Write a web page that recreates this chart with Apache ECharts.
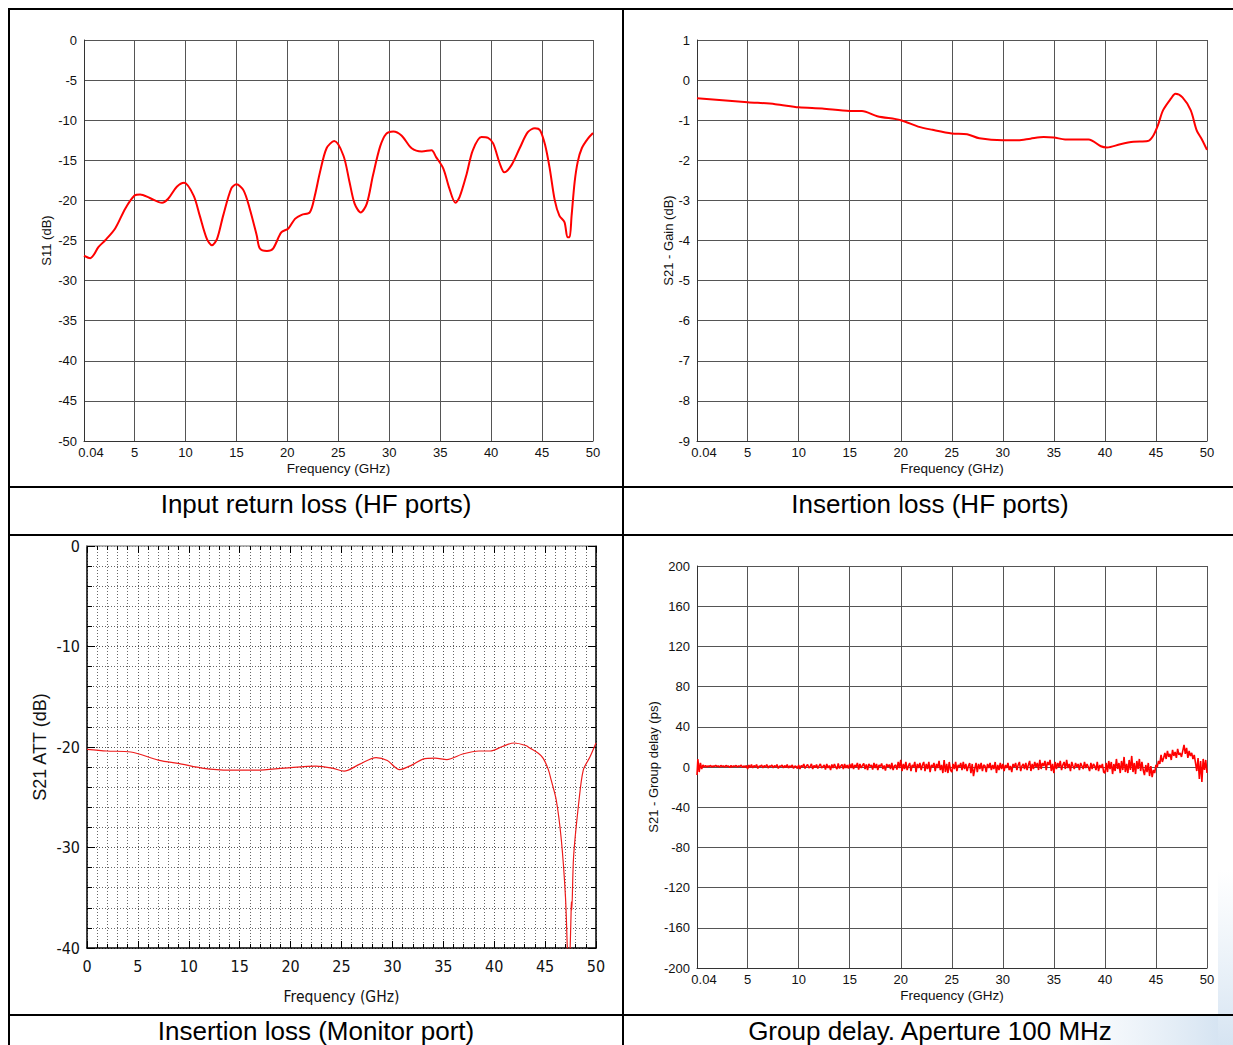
<!DOCTYPE html>
<html>
<head>
<meta charset="utf-8">
<script src="https://cdn.jsdelivr.net/npm/echarts@6/dist/echarts.min.js"></script>
<style>
html,body{margin:0;padding:0;background:#fff}
#main{width:1233px;height:1045px}
</style>
</head>
<body>
<div id="main"></div>
<script>
// ---------- tick labels ----------
const freqTicks = [0.04, 5, 10, 15, 20, 25, 30, 35, 40, 45, 50];

// ---------- captions ----------
const captions = [
  'Input return loss (HF ports)',
  'Insertion loss (HF ports)',
  'Insertion loss (Monitor port)',
  'Group delay. Aperture 100 MHz'
];

// ---------- S11 (input return loss) ----------
const s11Freq = [0.04,0.65,1.47,2.1,3.1,4.1,5,5.55,6.5,7.7,8.3,9.15,9.87,10.8,11.4,12.1,12.6,13.1,13.7,14.5,15,15.7,16.3,17,17.3,18,18.6,19.4,20.1,20.75,21.4,22.2,22.7,23.2,23.85,24.6,25.5,26.1,26.6,27.2,27.8,28.4,29.1,29.7,30.4,31.2,32.2,33.2,34.15,34.6,35.3,35.9,36.5,36.9,37.6,38.2,39.05,39.7,40.2,40.85,41.3,42,42.8,43.6,44.3,44.8,45.3,45.75,46.25,46.7,47.2,47.5,47.7,47.9,48.2,48.5,48.9,49.5,50];
const s11Val = [-26.9,-27.2,-25.8,-25,-23.5,-21,-19.4,-19.25,-19.7,-20.3,-19.8,-18.3,-17.8,-19.4,-21.9,-24.8,-25.6,-24.8,-21.9,-18.5,-18,-18.75,-21,-24.4,-26,-26.3,-26,-24,-23.5,-22.3,-21.8,-21.5,-19.4,-16.5,-13.5,-12.6,-14.4,-17.7,-20.4,-21.5,-20.4,-16.9,-13.3,-11.7,-11.4,-11.9,-13.5,-13.9,-13.75,-14.6,-16,-18.5,-20.3,-19.6,-16.7,-13.75,-12.1,-12.2,-12.9,-15.4,-16.5,-15.6,-13.5,-11.5,-11,-11.25,-13.1,-16,-20,-21.9,-22.7,-24.6,-24.6,-21.9,-17.7,-15.2,-13.5,-12.3,-11.6];

// ---------- S21 gain (HF ports) ----------
const s21Freq = [0.04,5,7.7,10,12.3,15,16.2,17.7,20,21.7,23.1,25,26.5,27.7,30,31.5,32.7,34,35,36.1,38.4,39.6,40.2,41.5,42.8,44.2,44.7,45.2,45.7,46.5,46.9,47.6,48.4,49,49.5,50];
const s21Val = [-0.45,-0.55,-0.6,-0.68,-0.71,-0.77,-0.77,-0.9,-1.0,-1.16,-1.24,-1.33,-1.35,-1.45,-1.5,-1.5,-1.46,-1.42,-1.43,-1.48,-1.48,-1.65,-1.68,-1.6,-1.54,-1.52,-1.4,-1.12,-0.75,-0.45,-0.34,-0.43,-0.75,-1.26,-1.48,-1.74];

// ---------- S21 ATT (monitor port) ----------
const attFreq = [0,1.94,4.3,7,9.3,11.3,14,16.7,19.4,22.5,24.1,25.25,26.8,28.4,29.5,30.7,31.9,33,34.2,35.35,36.9,38.5,39.6,40.8,41.95,43.1,43.5,44.3,44.8,45.3,45.6,46.1,46.6,47.0,47.2,47.35,47.45,47.55,47.58,47.62,47.8,48.3,48.75,49.4,50];
const attVal = [-20.23,-20.4,-20.5,-21.3,-21.7,-22.1,-22.3,-22.3,-22.1,-21.9,-22.1,-22.4,-21.7,-21.05,-21.35,-22.25,-21.8,-21.2,-21.1,-21.25,-20.7,-20.4,-20.4,-19.95,-19.6,-19.85,-20.1,-20.6,-21.1,-22.2,-23.3,-25.3,-29.3,-34.9,-40.5,-44,-40.5,-36.6,-35.4,-36.2,-30.9,-25.6,-22.3,-21,-19.6];

// ---------- group delay (ps): sweep 0.04 GHz, then every 0.125 GHz up to 50 GHz ----------
const gdStart = 0.04;
const gdStep = 0.125;
const gdVal = [
  -8, 8, -5, 4, -2, 2, 0, 1.5, 0, 1, 0.5, 1.5, 0, 1, 0.5, 1.5, 0.5, 1, 0, 1.5,
  0.5, 1, 0, 1.5, 0.5, 1, -0.5, 1.5, 0, 1, 0.5, 1.5, 0, 1, 0.5, 2, -0.5, 1, 0, 1.5,
  -2, 2, -0.5, 2.5, -1, 1.5, 0, 2.5, -1.5, 1, 0.5, 2, -1, 1.5, 0, 2.5, -1, 1, 0.5, 2,
  -1, 1.5, 0, 2.5, -1.5, 1, 0.5, 2, -1, 1.5, -0.5, 2.5, -1, 1, 0, 2, -1.5, 1, 0.5, -1.5,
  2, -2, 1.5, 0, 3, -1.5, 1, 2.5, -1, 0.5, 3, -2, 1.5, -0.5, 2.5, -1.5, 1, 3, -1, 0.5,
  2, -2.5, 3, -1, 1.5, -3, 2.5, -1, 3, 0, -2, 3.5, -1.5, 1, 2.5, -2, 3, -1, 2, -1.5,
  3, -1, 3.5, -2, 2, 0, 4, -2.5, 3, -1, 1.5, 3.5, -2, 2.5, -3, 3, 0.5, 2, -2.5, 4,
  -1, 3, -3, 2, 0.5, 3.5, -2, 1.5, -3.5, 3, 0, 2.5, -2, 4, -3, 1, 2, -2.5, 5, -1,
  7, -4, 3, -2, 5, -3, 1, 4, -4, 2, 0, 5, -5, 3, -1, 4, -3, 2, 5, -4,
  3, -2, 5, -5, 2, 0, 4, -4, 3, -1, 6, -3, 2, -6, 7, -5, 3, -6, 5, -3,
  -5, 3, -2, 5, -4, 2, 0, 4, -3, 5, -2, 3, -4, 1, 4, -6, 3, -9, -2, 4,
  -5, 3, -2, 4, -4, 2, 1, -5, 3, -1, 4, -3, 2, -2, 5, -6, 2, -3, 4, -2,
  3, -4, 2, -1, 4, -3, 1, -5, 3, 0, 4, -3, 2, 5, -4, 1, 3, -2, 4, -3,
  2, 6, -4, 3, -2, 5, 0, 4, -3, 7, -2, 4, 1, 6, -3, 5, 2, 7, -4, 3,
  -6, 5, -2, 4, 0, 6, -3, 2, 5, -2, 7, -1, 3, -4, 5, 1, -2, 4, 0, 3,
  -3, 4, 1, -2, 5, -1, 3, 0, -4, 4, -2, 3, 1, -3, 5, -4, 2, -1, 3, -5,
  -6, 4, -5, 6, -2, 5, -7, 3, -4, 8, -2, 4, -6, 6, -3, 10, -5, 3, -6, 7,
  -3, 11, -5, 4, -7, 6, -2, 8, -4, 5, -3, -8, 2, -5, 4, -9, 1, -10, -3, -6,
  2, 0, 6, 3, 12, 5, 9, 14, 8, 16, 10, 13, 7, 17, 11, 15, 9, 18, 12, 14,
  10, 16, 22, 13, 19, 9, 16, 11, 14, 8, 12, 4, -4, 9, -12, 6, -15, 8, -3, 7, -6
];

function zip(xs, ys) { return xs.map((x, i) => [x, ys[i]]); }
const gdData = gdVal.map((v, i) => [i === 0 ? gdStart : i * gdStep, v]);

const FONT = '"Liberation Sans", Arial, Helvetica, sans-serif';
const NARROW = '"Liberation Sans Narrow", "Arial Narrow", "DejaVu Sans Condensed", "Liberation Sans", sans-serif';

function plainX(grid) {
  return {
    type: 'value', gridIndex: grid, min: 0.04, max: 50,
    axisLine: { show: true, onZero: false, lineStyle: { color: '#333', width: 1 } },
    axisTick: { show: false, customValues: freqTicks },
    axisLabel: {
      customValues: freqTicks, fontSize: 13, color: '#111', fontFamily: FONT, margin: 5,
      formatter: v => (v === 0.04 ? '{first|0.04}' : String(v)),
      rich: { first: { fontSize: 13, color: '#111', fontFamily: FONT, padding: [0, 0, 0, 14] } }
    },
    splitLine: { show: true, lineStyle: { color: '#555', width: 1 } },
    name: 'Frequency (GHz)', nameLocation: 'middle', nameGap: 20,
    nameTextStyle: { fontSize: 13.5, color: '#111', fontFamily: FONT }
  };
}
function plainY(grid, min, max, interval, name, gap) {
  return {
    type: 'value', gridIndex: grid, min: min, max: max, interval: interval,
    axisLine: { show: true, onZero: false, lineStyle: { color: '#333', width: 1 } },
    axisTick: { show: false },
    axisLabel: { fontSize: 13, color: '#111', fontFamily: FONT, margin: 7 },
    splitLine: { show: true, lineStyle: { color: '#555', width: 1 } },
    name: name, nameLocation: 'middle', nameGap: gap, nameRotate: 90,
    nameTextStyle: { fontSize: 13, color: '#111', fontFamily: FONT }
  };
}

const redLine = (xi, yi, data, w, smooth, color) => ({
  type: 'line', xAxisIndex: xi, yAxisIndex: yi, data: data,
  showSymbol: false, symbol: 'none', smooth: smooth, animation: false,
  lineStyle: { color: color || '#ff0000', width: w }
});

const borders = [
  [8, 9, 1233, 9], [9, 8, 9, 1045], [623, 8, 623, 1045],
  [8, 487, 1233, 487], [8, 535, 1233, 535], [8, 1015, 1233, 1015]
].map(s => ({ type: 'line', z: 100, shape: { x1: s[0], y1: s[1], x2: s[2], y2: s[3] },
  style: { stroke: '#000', lineWidth: 2 } }));

const capPos = [[316, 504], [930, 504], [316, 1031], [930, 1031]];
const capTexts = captions.map((t, i) => ({
  type: 'text', z: 100, x: capPos[i][0], y: capPos[i][1],
  style: { text: t, font: '26px ' + FONT, fill: '#000', align: 'center', verticalAlign: 'middle' }
}));

const decor = [
  { type: 'rect', z: -10, shape: { x: 1218, y: 870, width: 15, height: 175 },
    style: { fill: new echarts.graphic.LinearGradient(0, 0, 0, 1, [
      { offset: 0, color: 'rgba(220,232,244,0)' }, { offset: 1, color: 'rgba(214,228,242,1)' }]) } },
  { type: 'rect', z: -10, shape: { x: 1060, y: 1016, width: 158, height: 29 },
    style: { fill: new echarts.graphic.LinearGradient(0, 0, 1, 0, [
      { offset: 0, color: 'rgba(225,235,245,0)' }, { offset: 1, color: 'rgba(214,228,242,1)' }]) } }
];

const tickCol = '#000';
const dots = [1, 2];
const option = {
  animation: false,
  backgroundColor: '#fff',
  grid: [
    { left: 84, top: 40, width: 509, height: 401, containLabel: false },
    { left: 697, top: 40, width: 510, height: 401, containLabel: false },
    { left: 87, top: 546, width: 509, height: 402, containLabel: false },
    { left: 697, top: 566, width: 510, height: 402, containLabel: false }
  ],
  xAxis: [
    plainX(0),
    plainX(1),
    {
      type: 'value', gridIndex: 2, min: 0, max: 50, interval: 5, position: 'bottom',
      axisLine: { show: true, onZero: false, lineStyle: { color: '#000', width: 1.5 } },
      axisTick: { show: true, inside: true, length: 7, lineStyle: { color: tickCol } },
      minorTick: { show: true, splitNumber: 5, length: 4, lineStyle: { color: tickCol } },
      axisLabel: { fontSize: 16, color: '#111', fontFamily: NARROW, margin: 10 },
      splitLine: { show: true, lineStyle: { color: '#555', type: dots, width: 1 } },
      minorSplitLine: { show: true, lineStyle: { color: '#666', type: dots, width: 1 } },
      name: 'Frequency (GHz)', nameLocation: 'middle', nameGap: 41,
      nameTextStyle: { fontSize: 15.5, color: '#111', fontFamily: NARROW }
    },
    {
      type: 'value', gridIndex: 2, min: 0, max: 50, interval: 5, position: 'top',
      axisLine: { show: true, onZero: false, lineStyle: { color: '#999', width: 1.5 } },
      axisTick: { show: true, inside: true, length: 7, lineStyle: { color: tickCol } },
      minorTick: { show: true, splitNumber: 5, length: 4, lineStyle: { color: tickCol } },
      axisLabel: { show: false }, splitLine: { show: false }
    },
    plainX(3)
  ],
  yAxis: [
    plainY(0, -50, 0, 5, 'S11 (dB)', 31),
    plainY(1, -9, 1, 1, 'S21 - Gain (dB)', 22),
    {
      type: 'value', gridIndex: 2, min: -40, max: 0, interval: 10, position: 'left',
      axisLine: { show: true, onZero: false, lineStyle: { color: '#000', width: 1.5 } },
      axisTick: { show: true, inside: true, length: 8, lineStyle: { color: tickCol } },
      minorTick: { show: true, splitNumber: 5, length: 5, lineStyle: { color: tickCol } },
      axisLabel: { fontSize: 16, color: '#111', fontFamily: NARROW, margin: 7 },
      splitLine: { show: true, lineStyle: { color: '#555', type: dots, width: 1 } },
      minorSplitLine: { show: true, lineStyle: { color: '#666', type: dots, width: 1 } },
      name: 'S21 ATT (dB)', nameLocation: 'middle', nameGap: 38, nameRotate: 90,
      nameTextStyle: { fontSize: 18, color: '#111', fontFamily: FONT }
    },
    {
      type: 'value', gridIndex: 2, min: -40, max: 0, interval: 10, position: 'right',
      axisLine: { show: true, onZero: false, lineStyle: { color: '#000', width: 1.5 } },
      axisTick: { show: true, inside: true, length: 8, lineStyle: { color: tickCol } },
      minorTick: { show: true, splitNumber: 5, length: 5, lineStyle: { color: tickCol } },
      axisLabel: { show: false }, splitLine: { show: false }
    },
    plainY(3, -200, 200, 40, 'S21 - Group delay (ps)', 37)
  ],
  series: [
    redLine(0, 0, zip(s11Freq, s11Val), 2, 0.3),
    redLine(1, 1, zip(s21Freq, s21Val), 2, 0.3),
    redLine(2, 2, zip(attFreq, attVal), 1.2, 0.3, '#ee1c1c'),
    redLine(4, 4, gdData, 1.6, false)
  ],
  graphic: decor.concat(borders, capTexts)
};

const chart = echarts.init(document.getElementById('main'), null, { renderer: 'svg', width: 1233, height: 1045 });
chart.setOption(option);
</script>
</body>
</html>
